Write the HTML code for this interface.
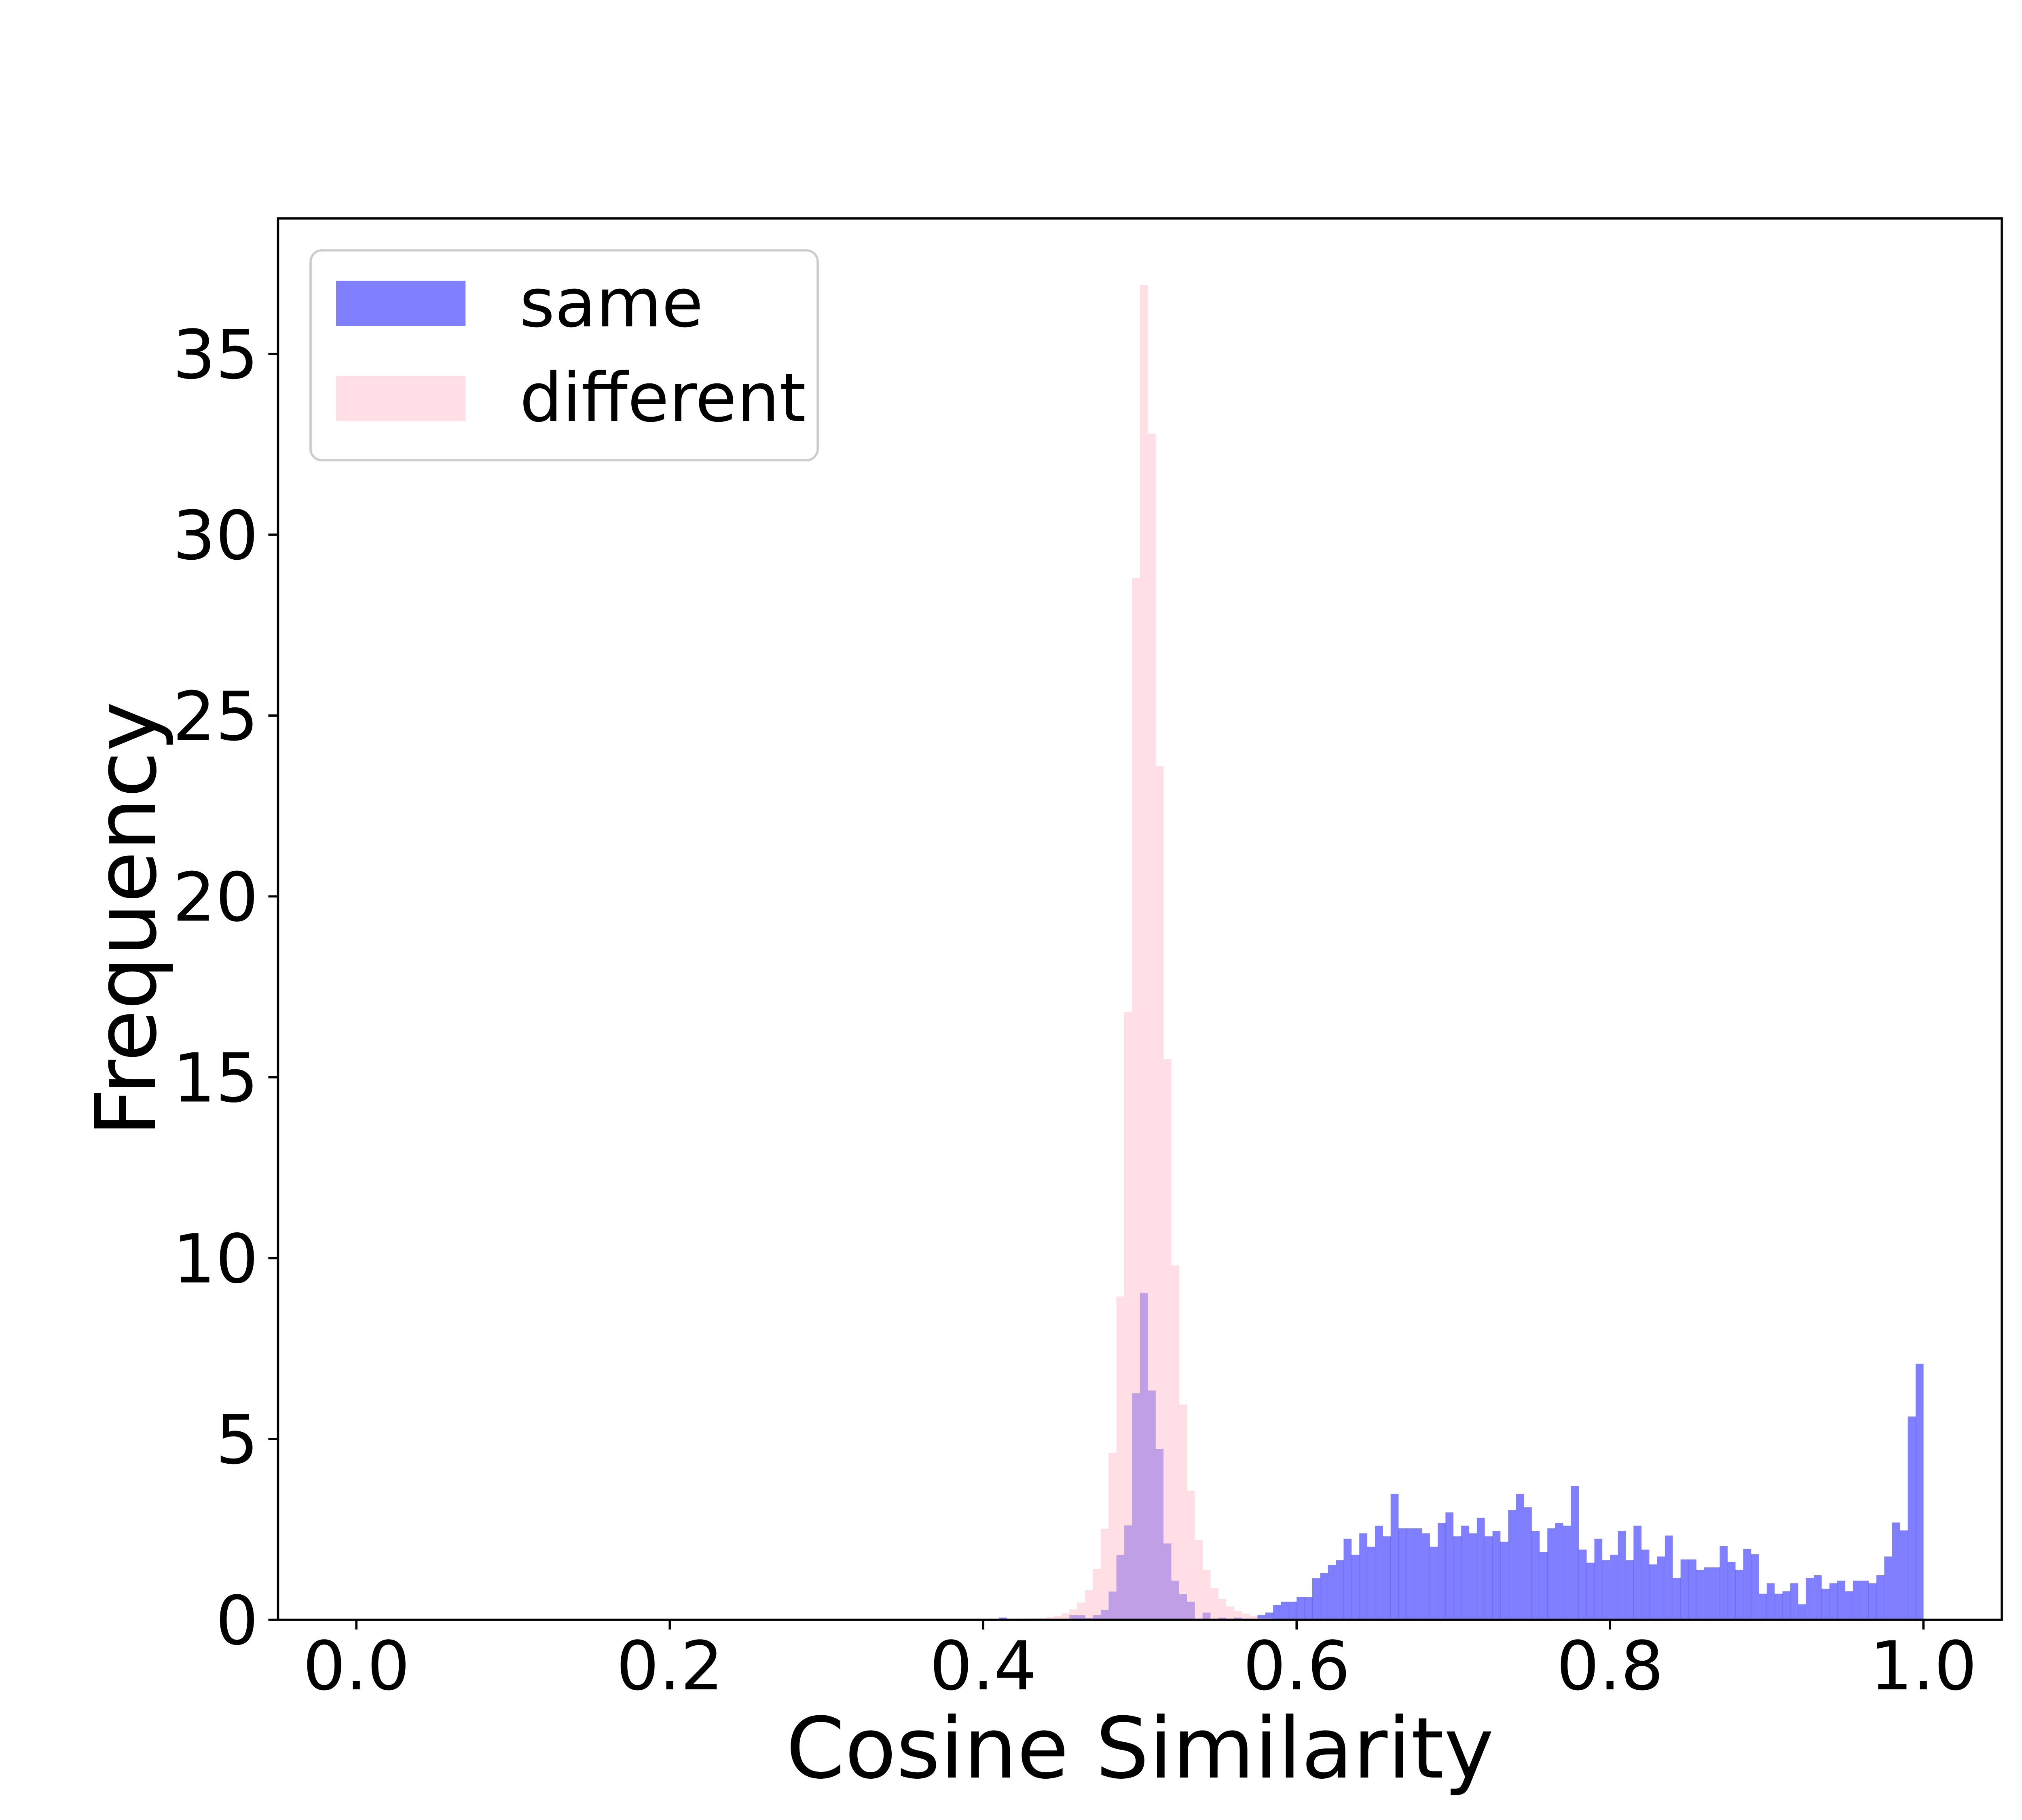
<!DOCTYPE html>
<html><head><meta charset="utf-8"><style>
html,body{margin:0;padding:0;background:#fff;width:5500px;height:4500px;overflow:hidden;}
svg{display:block;font-family:"DejaVu Sans","Liberation Sans",sans-serif;}
</style></head><body>
<svg id="chart" width="5500" height="4500" viewBox="0 0 5500 4500" xmlns="http://www.w3.org/2000/svg">
<rect width="5500" height="4500" fill="#fff"/>
<g id="bars-same"></g>
<g id="bars-diff"></g>
<g id="axes"></g>
<g id="legend"></g>
</svg>
<script>
const binWidth = 0.005;
const sameStart = 0.41;
const sameValues = [0.06,0,0,0,0,0,0,0,0,
 0.13,0.13,0.05,0.13,0.27,0.78,1.80,2.61,6.26,9.04,6.34,4.73,2.11,1.08,0.71,0.50,
 0,0.20,0,0.06,0,0.06,0,0,0.13,0.20,0.41,0.50,0.50,
 0.63,0.63,1.15,1.29,1.51,1.65,2.24,1.80,2.39,2.02,2.60,2.31,3.48,2.53,2.53,2.53,2.39,2.02,2.68,2.97,
 2.31,2.60,2.39,2.82,2.31,2.46,2.16,3.04,3.48,3.11,2.46,1.87,2.53,2.68,2.60,3.70,1.94,1.58,2.24,1.65,
 1.80,2.46,1.65,2.60,1.94,1.53,1.75,2.33,1.16,1.67,1.67,1.38,1.45,1.45,2.04,1.60,1.38,1.96,1.81,0.72,
 1.01,0.72,0.79,1.01,0.43,1.16,1.23,0.86,1.01,1.08,0.79,1.08,1.08,1.01,1.23,1.75,2.69,2.47,5.62,7.08];
const diffStart = 0.40;
const diffValues = [0.02,0.02,0.02,0.03,0.03,0.04,0.04,
 0.05,0.07,0.11,0.18,0.29,0.47,0.82,1.40,2.52,4.62,8.94,16.8,28.8,36.9,32.8,23.6,15.5,9.8,
 5.95,3.57,2.20,1.38,0.87,0.58,0.37,0.24,0.17,0.11,0.05,0.05,0.03];
const xTicks = [0.0,0.2,0.4,0.6,0.8,1.0];
const xTickLabels = ["0.0","0.2","0.4","0.6","0.8","1.0"];
const yTicks = [0,5,10,15,20,25,30,35];
const yTickLabels = ["0","5","10","15","20","25","30","35"];

const NS = "http://www.w3.org/2000/svg";
const L = 687.5, R = 4950, T = 540, B = 4005;
const xMin = -0.05, xMax = 1.05;
const yMax = Math.max(Math.max(...diffValues), Math.max(...sameValues)) * 1.05;
function sx(v){ return L + (v - xMin) / (xMax - xMin) * (R - L); }
function sy(v){ return B - v / yMax * (B - T); }
function mk(tag, attrs, parent){
  const e = document.createElementNS(NS, tag);
  for (const k in attrs) e.setAttribute(k, attrs[k]);
  parent.appendChild(e);
  return e;
}
function drawBars(gid, start, vals, color, nm){
  const g = document.getElementById(gid);
  vals.forEach((v, i) => {
    if (v <= 0) return;
    const x0 = sx(start + i * binWidth), x1 = sx(start + (i + 1) * binWidth);
    const r = mk('rect', {x: x0, y: sy(v), width: x1 - x0 + 0.3, height: B - sy(v), fill: color, 'fill-opacity': 0.5}, g);
    
    
  });
}
drawBars('bars-same', sameStart, sameValues, '#0000ff', 'same-bar');
drawBars('bars-diff', diffStart, diffValues, '#ffc0cb', 'different-bar');

const ax = document.getElementById('axes');
const frame = mk('rect', {x: L, y: T, width: R - L, height: B - T, fill: 'none', stroke: '#000', 'stroke-width': 5.6}, ax);


xTicks.forEach((t, i) => {
  const x = sx(t);
  const tk = mk('line', {x1: x, x2: x, y1: B, y2: B + 24, stroke: '#000', 'stroke-width': 5.6}, ax);
  
  
  const tx = mk('text', {x: x, y: 4177, 'font-size': 166.7, 'text-anchor': 'middle', fill: '#000'}, ax);
  tx.textContent = xTickLabels[i];
  
  
});
yTicks.forEach((t, i) => {
  const y = sy(t);
  const tk = mk('line', {x1: L - 24, x2: L, y1: y, y2: y, stroke: '#000', 'stroke-width': 5.6}, ax);
  
  
  const tx = mk('text', {x: 639, y: y + 60, 'font-size': 166.7, 'text-anchor': 'end', fill: '#000'}, ax);
  tx.textContent = yTickLabels[i];
  
  
});
const xl = mk('text', {x: (L + R) / 2, y: 4395, 'font-size': 208.3, 'text-anchor': 'middle', fill: '#000'}, ax);
xl.textContent = 'Cosine Similarity';


const yl = mk('text', {x: 0, y: 0, 'font-size': 208.3, 'text-anchor': 'middle', fill: '#000', transform: 'translate(384,' + ((T + B) / 2) + ') rotate(-90)'}, ax);
yl.textContent = 'Frequency';



const lg = document.getElementById('legend');
const box = mk('rect', {x: 768, y: 619, width: 1254, height: 519, rx: 28, fill: '#fff', 'fill-opacity': 0.8, stroke: '#cccccc', 'stroke-width': 5.6}, lg);


const p1 = mk('rect', {x: 831, y: 694, width: 320, height: 112, fill: '#0000ff', 'fill-opacity': 0.5}, lg);


const t1 = mk('text', {x: 1285, y: 807, 'font-size': 166.7, fill: '#000'}, lg);
t1.textContent = 'same';


const p2 = mk('rect', {x: 831, y: 929, width: 320, height: 112, fill: '#ffc0cb', 'fill-opacity': 0.5}, lg);


const t2 = mk('text', {x: 1285, y: 1041, 'font-size': 166.7, fill: '#000'}, lg);
t2.textContent = 'different';


</script>
</body></html>
